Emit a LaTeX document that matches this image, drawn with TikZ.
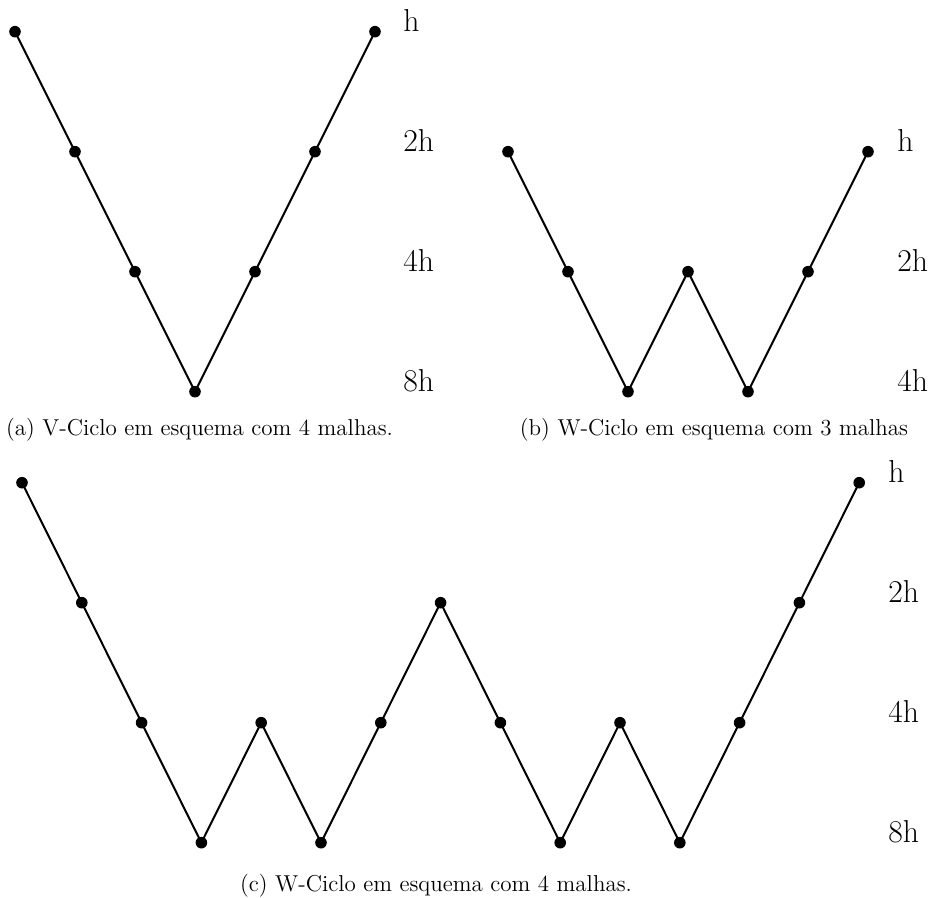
\documentclass[tikz,border=0pt]{standalone}
\begin{document}
\begin{tikzpicture}[x=0.5pt,y=-0.5pt,
  dot/.style={circle,fill=black,inner sep=0pt,minimum size=5.8pt},
  edge/.style={line width=1pt},
  lvl/.style={anchor=base west,inner sep=0pt,font=\fontsize{15.85}{18}\selectfont},
  captxt/.style={anchor=base,inner sep=0pt,font=\fontsize{11.5}{14}\selectfont}]
\useasboundingbox (0,0) rectangle (931,898);
% (a)
\foreach \i/\l in {0/0,1/1,2/2,3/3,4/2,5/1,6/0}
  \node[dot] (a\i) at ({15+60*\i},{31.7+120*\l}) {};
\draw[edge] (a0.center) -- (a1.center) -- (a2.center) -- (a3.center) -- (a4.center) -- (a5.center) -- (a6.center);
\node[lvl] (la0) at (403,31.7) {h};
\node[lvl] (la1) at (403,151.7) {2h};
\node[lvl] (la2) at (403,271.7) {4h};
\node[lvl] (la3) at (403,391.7) {8h};
\node[captxt] (capa) at (199.5,436) {(a) V-Ciclo em esquema com 4 malhas.};
% (b)
\foreach \i/\l in {0/0,1/1,2/2,3/1,4/2,5/1,6/0}
  \node[dot] (b\i) at ({508+60*\i},{151.7+120*\l}) {};
\draw[edge] (b0.center) -- (b1.center) -- (b2.center) -- (b3.center) -- (b4.center) -- (b5.center) -- (b6.center);
\node[lvl] (lb0) at (897,151.7) {h};
\node[lvl] (lb1) at (897,271.7) {2h};
\node[lvl] (lb2) at (897,391.7) {4h};
\node[captxt] (capb) at (714,436) {(b) W-Ciclo em esquema com 3 malhas};
% (c)
\foreach \i/\l in {0/0,1/1,2/2,3/3,4/2,5/3,6/2,7/1,8/2,9/3,10/2,11/3,12/2,13/1,14/0}
  \node[dot] (c\i) at ({22+59.8*\i},{482.7+120*\l}) {};
\draw[edge] (c0.center) -- (c1.center) -- (c2.center) -- (c3.center) -- (c4.center) -- (c5.center) -- (c6.center) -- (c7.center) -- (c8.center) -- (c9.center) -- (c10.center) -- (c11.center) -- (c12.center) -- (c13.center) -- (c14.center);
\node[lvl] (lc0) at (888,482.7) {h};
\node[lvl] (lc1) at (888,602.7) {2h};
\node[lvl] (lc2) at (888,722.7) {4h};
\node[lvl] (lc3) at (888,842.7) {8h};
\node[captxt] (capc) at (436,891) {(c)\ W-Ciclo em esquema com 4 malhas.};
\end{tikzpicture}
\end{document}
